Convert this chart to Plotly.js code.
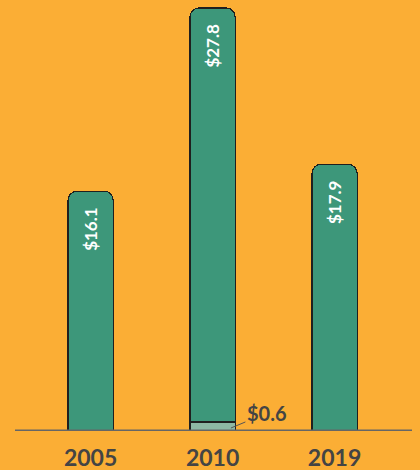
<!DOCTYPE html>
<html><head><meta charset="utf-8">
<script src="https://cdn.plot.ly/plotly-3.0.1.min.js"></script>
<style>html,body{margin:0;padding:0;background:#FBAE35;}</style>
</head><body>
<div id="chart" style="width:420px;height:470px;"></div>
<script>
const years = ['2005', '2010', '2019'];
const mainValues = [16.1, 27.8, 17.9];
const baseValues = [0, 0.6, 0];
const mainLabels = ['$16.1', '$27.8', '$17.9'];
const baseLabel = '$0.6';

const traceBase = {
  type: 'bar', x: years, y: baseValues,
  marker: {color: '#8DB8A4', line: {color: '#1f1f1f', width: 1.2}},
  hoverinfo: 'none', textposition: 'none'
};
const traceMain = {
  type: 'bar', x: years, y: mainValues,
  text: mainLabels.map(s => s + '\u00A0\u00A0\u00A0'),
  textposition: 'inside', insidetextanchor: 'end', textangle: -90,
  textfont: {color: '#ffffff', size: 17, family: 'Lato', weight: 'bold'},
  marker: {color: '#3D977A', line: {color: '#1f1f1f', width: 1.2}, cornerradius: 9},
  hoverinfo: 'none'
};

const layout = {
  width: 420, height: 470,
  paper_bgcolor: '#FBAE35', plot_bgcolor: '#FBAE35',
  margin: {l: 15, r: 8, t: 0, b: 39},
  barmode: 'stack', bargap: 0.63,
  showlegend: false,
  xaxis: {type: 'category', range: [-0.62, 2.635], showgrid: false, zeroline: false, showline: false,
    ticks: '', ticklabelstandoff: 11,
    tickfont: {size: 23, color: '#444444', family: 'Lato', weight: 'bold'}},
  yaxis: {range: [0, 28.93], visible: false, showgrid: false, zeroline: false},
  shapes: [{type: 'line', xref: 'paper', yref: 'y', x0: 0, x1: 1, y0: 0, y1: 0,
    line: {color: '#666666', width: 3}}],
  annotations: [{xref: 'x', yref: 'y', x: 1.15, y: 0.2, text: baseLabel, showarrow: true,
    arrowhead: 0, arrowwidth: 1, arrowcolor: '#555555', ax: 36, ay: -15,
    font: {size: 20, color: '#444444', family: 'Lato', weight: 'bold'}}]
};
Plotly.newPlot('chart', [traceBase, traceMain], layout, {displayModeBar: false, staticPlot: true});
</script>
</body></html>
